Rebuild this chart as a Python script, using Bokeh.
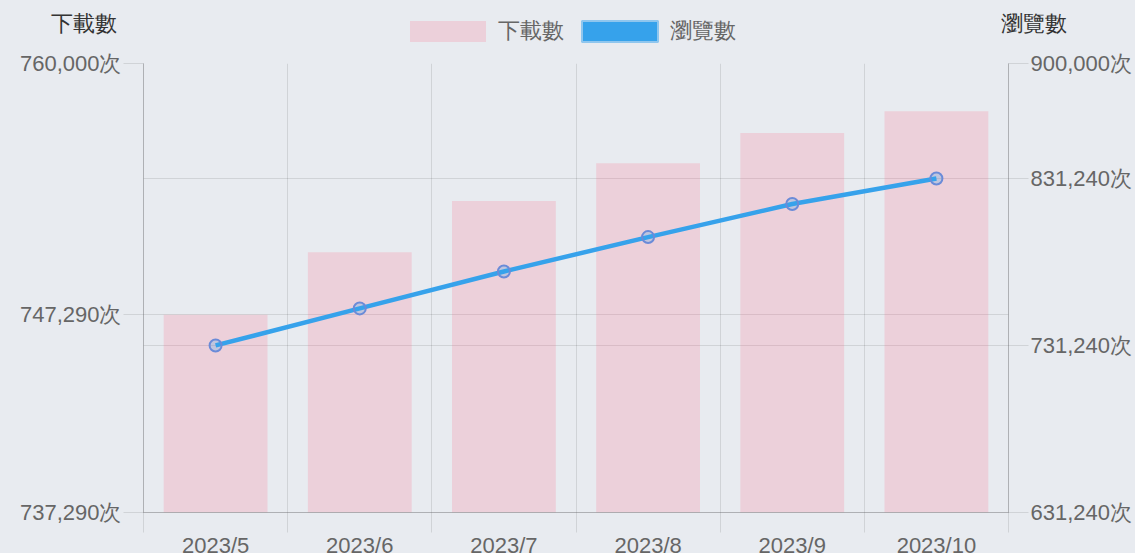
from bokeh.plotting import figure
from bokeh.layouts import column
from bokeh.models import (Range1d, LinearAxis, FixedTicker, Grid, Label, Legend, LegendItem,
                          ColumnDataSource)
from bokeh.embed import file_html
from bokeh.resources import INLINE

# ---- data ----
months = ["2023/5", "2023/6", "2023/7", "2023/8", "2023/9", "2023/10"]
downloads = [747290, 750450, 753050, 754960, 756480, 757580]
views = [731240, 753400, 775500, 796100, 815900, 831200]
left_ticks = [737290, 747290, 760000]
right_ticks = [631240, 731240, 831240, 900000]
left_title = "下載數"
right_title = "瀏覽數"
unit = "次"

# ---- style ----
BG = "#e8ebf0"
FONT = "Liberation Sans"
FS = "22px"
TICK_COLOR = "#666666"
TITLE_COLOR = "#333333"
BAR_COLOR = "#ff6384"
BAR_ALPHA = 0.2
LINE_COLOR = "#36a2eb"

n = len(months)
centers = [i + 0.5 for i in range(n)]
bounds = list(range(n + 1))

src = ColumnDataSource(dict(x=centers, month=months, downloads=downloads, views=views,
                            base=[left_ticks[0]] * n))

# ---------------- header (titles + legend) ----------------
W = 1135
HEAD_H = 48
head = figure(x_range=Range1d(0, W), y_range=Range1d(0, HEAD_H),
              frame_width=W, frame_height=HEAD_H, min_border=0,
              x_axis_type=None, y_axis_type=None,
              output_backend="svg", toolbar_location=None,
              background_fill_color=BG, border_fill_color=BG, outline_line_color=None)
head.grid.visible = False
head.frame_align = False

nan = float("nan")
leg_bar = head.vbar(x=[nan], top=[nan], width=1, fill_color=BAR_COLOR, fill_alpha=BAR_ALPHA,
                    line_color=None)
leg_line = head.rect(x=[nan], y=[nan], width=1, height=1, fill_color=LINE_COLOR,
                     line_color="#8fc6ee", line_width=2)
legend = Legend(items=[LegendItem(label=left_title, renderers=[leg_bar]),
                       LegendItem(label=right_title, renderers=[leg_line])],
                location=(400, 2), orientation="horizontal",
                glyph_width=95, glyph_height=26, label_standoff=3, spacing=8,
                padding=0, margin=0, background_fill_alpha=0, border_line_color=None,
                label_text_font=FONT, label_text_font_size=FS, label_text_color=TICK_COLOR)
head.add_layout(legend, "center")

head.add_layout(Label(x=50, y=HEAD_H - 10, x_units="screen", y_units="screen", text=left_title,
                      text_font=FONT, text_font_size=FS, text_color=TITLE_COLOR,
                      text_baseline="top", text_align="left"))
head.add_layout(Label(x=1066, y=HEAD_H - 10, x_units="screen", y_units="screen",
                      text=right_title, text_font=FONT, text_font_size=FS,
                      text_color=TITLE_COLOR, text_baseline="top", text_align="right"))

# ---------------- main chart ----------------
p = figure(x_range=Range1d(0, n), y_range=Range1d(left_ticks[0], left_ticks[-1]),
           frame_width=865, frame_height=449,
           min_border_left=143, min_border_right=127, min_border_top=63 - HEAD_H,
           min_border_bottom=0,
           output_backend="svg", toolbar_location=None,
           background_fill_color=BG, border_fill_color=BG, outline_line_color=None)
p.frame_align = False
p.extra_y_ranges = {"right": Range1d(right_ticks[0], right_ticks[-1])}

xa = p.xaxis[0]
xa.ticker = FixedTicker(ticks=centers, minor_ticks=bounds)
xa.major_label_overrides = {c: m for c, m in zip(centers, months)}
xa.major_tick_line_color = None
xa.major_tick_out = 20
xa.major_tick_in = 0
xa.minor_tick_out = 20
xa.minor_tick_in = 0
xa.minor_tick_line_color = "black"
xa.minor_tick_line_alpha = 0.1
xa.axis_line_color = "black"
xa.axis_line_alpha = 0.25
xa.major_label_standoff = 0

ya = p.yaxis[0]
ya.ticker = FixedTicker(ticks=left_ticks, minor_ticks=[])
ya.major_label_overrides = {t: f"{t:,}{unit}" for t in left_ticks}

yr = LinearAxis(y_range_name="right")
yr.ticker = FixedTicker(ticks=right_ticks, minor_ticks=[])
yr.major_label_overrides = {t: f"{t:,}{unit}" for t in right_ticks}
p.add_layout(yr, "right")

for ax in (ya, yr):
    ax.major_tick_out = 20
    ax.major_tick_in = 0
    ax.minor_tick_line_color = None
    ax.major_tick_line_color = "black"
    ax.major_tick_line_alpha = 0.1
    ax.axis_line_color = "black"
    ax.axis_line_alpha = 0.25
    ax.major_label_standoff = 2

for ax in (xa, ya, yr):
    ax.major_label_text_font = FONT
    ax.major_label_text_font_size = FS
    ax.major_label_text_color = TICK_COLOR

p.xgrid.grid_line_color = None
p.xgrid.minor_grid_line_color = "black"
p.xgrid.minor_grid_line_alpha = 0.1
p.ygrid.grid_line_color = "black"
p.ygrid.grid_line_alpha = 0.1
p.add_layout(Grid(dimension=1, ticker=yr.ticker, y_range_name="right",
                  grid_line_color="black", grid_line_alpha=0.1))

p.vbar(x="x", top="downloads", bottom="base", width=0.72, source=src,
       fill_color=BAR_COLOR, fill_alpha=BAR_ALPHA, line_color=None)
p.line(x="x", y="views", source=src, y_range_name="right",
       line_color=LINE_COLOR, line_width=4.5)
p.scatter(x="x", y="views", source=src, y_range_name="right", marker="circle", size=12,
          fill_color=LINE_COLOR, fill_alpha=0.25, line_color="#6a8bd8", line_width=2)

layout = column(head, p, spacing=0)

html = file_html(layout, INLINE)
html = html.replace("<head>", "<head><style>html,body{margin:0;padding:0;overflow:hidden;"
                    "background:" + BG + ";}</style>", 1)
open("out.html", "w").write(html)
